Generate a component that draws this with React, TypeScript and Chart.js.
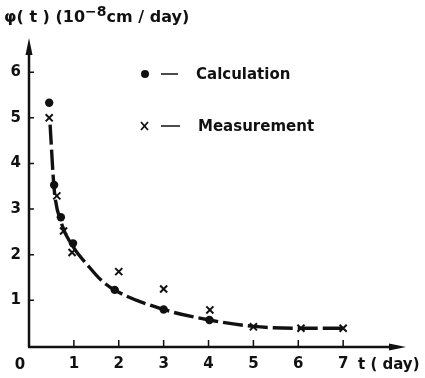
import React, { useEffect, useRef } from "react";
import { Chart, registerables } from "chart.js";
Chart.register(...registerables);

const calcT = [0.45, 0.56, 0.71, 0.98, 1.91, 3.0, 4.02];
const calcPhi = [5.33, 3.53, 2.82, 2.25, 1.23, 0.8, 0.57];
const measT = [0.45, 0.62, 0.77, 0.96, 2.0, 3.0, 4.03, 5.0, 6.06, 7.0];
const measPhi = [5.0, 3.29, 2.52, 2.05, 1.63, 1.25, 0.79, 0.42, 0.39, 0.39];
const curveT = [0.47, 0.56, 0.72, 1.0, 1.3, 1.6, 1.92, 3.0, 4.02, 5.0, 6.0, 7.0];
const curvePhi = [4.85, 3.45, 2.7, 2.15, 1.78, 1.45, 1.22, 0.8, 0.57, 0.43, 0.39, 0.39];
const xTickLabels = [1, 2, 3, 4, 5, 6, 7];
const yTickLabels = [1, 2, 3, 4, 5, 6];
const legendLabels = ["Calculation", "Measurement"];

const FONT = "'DejaVu Sans', sans-serif";
const INK = "#111";

const overlay = {
  id: "overlay",
  afterDraw(chart: any) {
    const { ctx, scales } = chart;
    const xs = scales.x, ys = scales.y;
    const x0 = xs.getPixelForValue(0);
    const y0 = ys.getPixelForValue(0);
    const xEnd = xs.getPixelForValue(xs.max);
    const yEnd = ys.getPixelForValue(ys.max);
    ctx.save();
    ctx.strokeStyle = INK;
    ctx.fillStyle = INK;
    ctx.lineWidth = 2.5;
    ctx.beginPath();
    ctx.moveTo(x0, y0 + 1);
    ctx.lineTo(x0, yEnd + 10);
    ctx.moveTo(x0 - 1, y0 + 1);
    ctx.lineTo(xEnd - 10, y0 + 1);
    ctx.stroke();
    // arrows
    ctx.beginPath();
    ctx.moveTo(x0, yEnd);
    ctx.lineTo(x0 - 3.5, yEnd + 17);
    ctx.lineTo(x0 + 3.5, yEnd + 17);
    ctx.closePath();
    ctx.fill();
    ctx.beginPath();
    ctx.moveTo(xEnd, y0 + 1);
    ctx.lineTo(xEnd - 17, y0 - 2.5);
    ctx.lineTo(xEnd - 17, y0 + 4.5);
    ctx.closePath();
    ctx.fill();
    // tick marks
    ctx.lineWidth = 1.5;
    ctx.beginPath();
    for (const v of yTickLabels) {
      const p = ys.getPixelForValue(v);
      ctx.moveTo(x0, p);
      ctx.lineTo(x0 + 5, p);
    }
    for (const v of xTickLabels) {
      const p = xs.getPixelForValue(v);
      ctx.moveTo(p, y0);
      ctx.lineTo(p, y0 - 6);
    }
    ctx.stroke();
    // origin label & axis titles
    ctx.font = `bold 15px ${FONT}`;
    ctx.textBaseline = "alphabetic";
    ctx.textAlign = "center";
    ctx.fillText("0", x0 - 9, 369);
    ctx.textAlign = "left";
    ctx.fillText("t ( day)", 358, 369);
    // y title with superscript
    let tx = 4;
    const base = 22;
    const seg = (s: string, size: number, dy: number) => {
      ctx.font = `bold ${size}px ${FONT}`;
      ctx.fillText(s, tx, base + dy);
      tx += ctx.measureText(s).width;
    };
    seg("\u03C6( t ) (10", 16, 0);
    seg("\u22128", 14, -6);
    seg("cm / day)", 16, 0);
    // legend
    ctx.beginPath();
    ctx.arc(145, 74, 4, 0, Math.PI * 2);
    ctx.fill();
    ctx.lineWidth = 1.5;
    ctx.beginPath();
    ctx.moveTo(161, 74);
    ctx.lineTo(178, 74);
    ctx.moveTo(161, 126);
    ctx.lineTo(180, 126);
    ctx.stroke();
    ctx.lineWidth = 1.8;
    ctx.beginPath();
    ctx.moveTo(141, 122);
    ctx.lineTo(148, 130);
    ctx.moveTo(148, 122);
    ctx.lineTo(141, 130);
    ctx.stroke();
    ctx.font = `bold 15px ${FONT}`;
    ctx.textBaseline = "middle";
    ctx.fillText(legendLabels[0], 196, 75);
    ctx.fillText(legendLabels[1], 198, 127);
    ctx.restore();
  },
};

export default function App() {
  const ref = useRef<HTMLCanvasElement>(null);
  useEffect(() => {
    document.body.style.margin = "0";
    const chart = new Chart(ref.current!, {
      type: "scatter",
      data: {
        datasets: [
          {
            label: "curve",
            data: curveT.map((t, i) => ({ x: t, y: curvePhi[i] })),
            showLine: true,
            borderColor: INK,
            borderWidth: 3.4,
            borderDash: [20, 5],
            cubicInterpolationMode: "monotone",
            pointRadius: 0,
          },
          {
            label: legendLabels[0],
            data: calcT.map((t, i) => ({ x: t, y: calcPhi[i] })),
            pointStyle: "circle",
            pointRadius: 4.2,
            backgroundColor: INK,
            borderColor: INK,
            borderWidth: 0,
          },
          {
            label: legendLabels[1],
            data: measT.map((t, i) => ({ x: t, y: measPhi[i] })),
            pointStyle: "crossRot",
            pointRadius: 5,
            borderColor: INK,
            borderWidth: 2,
          },
        ],
      },
      options: {
        responsive: false,
        animation: false,
        layout: { padding: { top: 38, right: 19, left: 0, bottom: 0 } },
        plugins: { legend: { display: false }, tooltip: { enabled: false } },
        scales: {
          x: {
            type: "linear",
            min: 0,
            max: 8.4,
            grid: { display: false, drawTicks: false },
            border: { display: false },
            ticks: {
              stepSize: 1,
              autoSkip: false,
              maxRotation: 0,
              padding: 9,
              color: INK,
              font: { family: FONT, size: 15, weight: "bold" },
              callback: (v: any) => (xTickLabels.includes(v) ? String(v) : ""),
            },
            afterFit: (s: any) => {
              s.height = 32;
            },
          },
          y: {
            type: "linear",
            min: 0,
            max: 6.75,
            grid: { display: false, drawTicks: false },
            border: { display: false },
            ticks: {
              stepSize: 1,
              autoSkip: false,
              padding: 8,
              color: INK,
              font: { family: FONT, size: 15, weight: "bold" },
              callback: (v: any) => (yTickLabels.includes(v) ? String(v) : ""),
            },
            afterFit: (s: any) => {
              s.width = 29;
            },
          },
        },
      },
      plugins: [overlay],
    } as any);
    return () => chart.destroy();
  }, []);
  return (
    <div style={{ width: 425, height: 378 }}>
      <canvas ref={ref} width={425} height={378} style={{ display: "block" }} />
    </div>
  );
}
